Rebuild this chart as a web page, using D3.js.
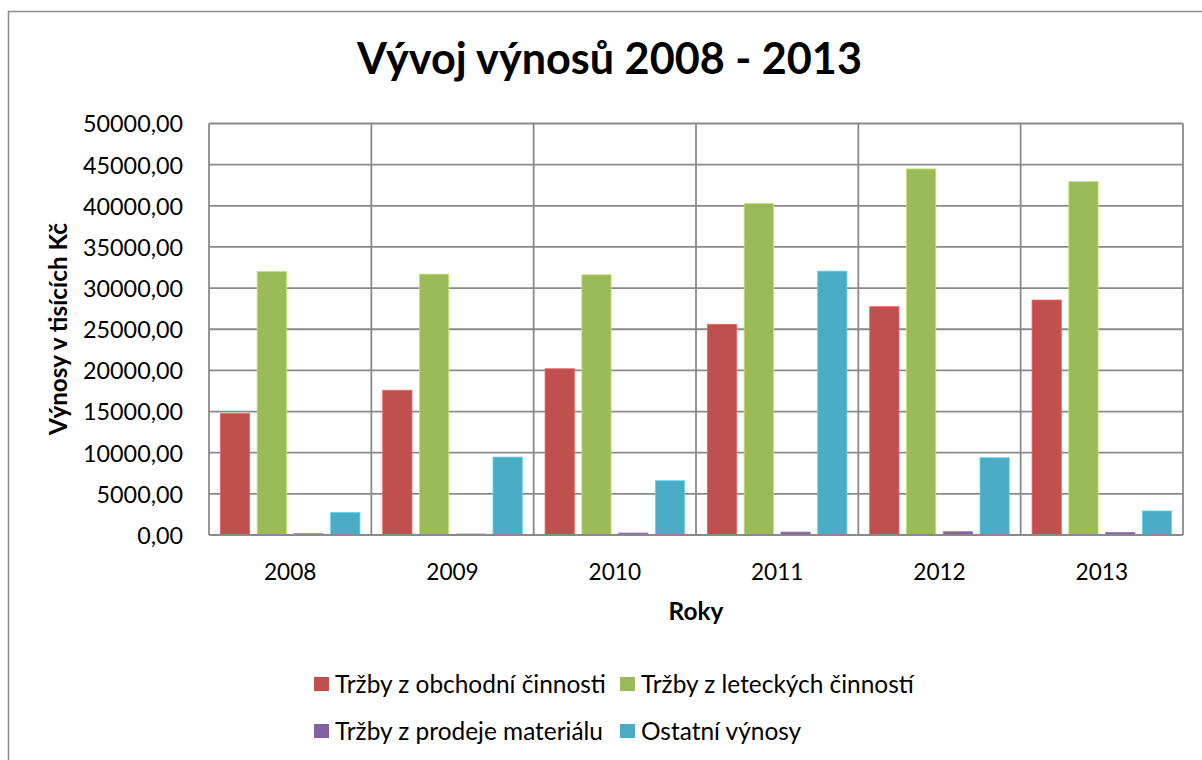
<!DOCTYPE html>
<html>
<head>
<meta charset="utf-8">
<script src="https://cdn.jsdelivr.net/npm/d3@7"></script>
<style>
  html, body { margin: 0; padding: 0; background: #fff; }
  svg { display: block; font-family: Lato, "Open Sans", sans-serif; }
</style>
</head>
<body>
<svg id="chart" width="1202" height="760"></svg>
<script>
// ---- data ----
const years = ["2008", "2009", "2010", "2011", "2012", "2013"];
const seriesNames = [
  "Tržby z obchodní činnosti",
  "Tržby z leteckých činností",
  "Tržby z prodeje materiálu",
  "Ostatní výnosy"
];
const obchodni = [14750, 17590, 20200, 25600, 27740, 28550];
const letecke  = [32020, 31700, 31620, 40280, 44480, 42940];
const material = [160, 120, 240, 360, 400, 320];
const ostatni  = [2750, 9470, 6600, 32060, 9390, 2920];
const yTicks = [0, 5000, 10000, 15000, 20000, 25000, 30000, 35000, 40000, 45000, 50000];
const colors = ["#C0504D", "#9BBB59", "#8064A2", "#4BACC6"];
const titleText = "Vývoj výnosů 2008 - 2013";
const yTitle = "Výnosy v tisících Kč";
const xTitle = "Roky";

const seriesValues = [obchodni, letecke, material, ostatni];
const table = years.map((y, i) => ({ year: y, values: seriesValues.map(s => s[i]) }));

// ---- layout ----
const svg = d3.select("#chart");
const plot = { left: 209, right: 1183, top: 123.5, bottom: 535 };
const grid = "#8a8a8a";

// chart border (extends beyond the canvas on right/bottom)
svg.append("rect")
  .attr("x", 8.5).attr("y", 11.5)
  .attr("width", 1300).attr("height", 900)
  .attr("fill", "#fff").attr("stroke", "#8c8c8c").attr("stroke-width", 1.5);

// measure helper to set font sizes matching the reference text widths
function fitSize(text, weight, targetWidth) {
  const t = svg.append("text").attr("font-size", 100).attr("font-weight", weight).text(text);
  const w = t.node().getComputedTextLength();
  t.remove();
  return 100 * targetWidth / w;
}
const baseSize = fitSize("Tržby z obchodní činnosti", "normal", 271);
const tickSize = fitSize("50000,00", "normal", 100);
const yearSize = fitSize("2008", "normal", 52.5);
const titleSize = fitSize(titleText, "bold", 505);
const yTitleSize = fitSize(yTitle, "bold", 212);

const x0 = d3.scaleBand().domain(years).range([plot.left, plot.right]).paddingInner(0).paddingOuter(0);
const x1 = d3.scaleBand().domain(d3.range(4)).range([0, x0.bandwidth()]).paddingInner(0.204).paddingOuter(0.31);
const y = d3.scaleLinear().domain([0, 50000]).range([plot.bottom, plot.top]);

// horizontal gridlines
svg.append("g").selectAll("line").data(yTicks).join("line")
  .attr("x1", plot.left).attr("x2", plot.right)
  .attr("y1", d => y(d)).attr("y2", d => y(d))
  .attr("stroke", grid).attr("stroke-width", 1.8);

// vertical gridlines at category boundaries
const bounds = years.map(d => x0(d)).concat([plot.right]);
svg.append("g").selectAll("line").data(bounds).join("line")
  .attr("x1", d => d).attr("x2", d => d)
  .attr("y1", plot.top).attr("y2", plot.bottom)
  .attr("stroke", grid).attr("stroke-width", 1.8);

// bars
const groups = svg.append("g").selectAll("g").data(table).join("g")
  .attr("transform", d => `translate(${x0(d.year)},0)`);
groups.selectAll("rect").data(d => d.values.map((v, i) => ({ v, i }))).join("rect")
  .attr("x", d => x1(d.i))
  .attr("width", x1.bandwidth())
  .attr("y", d => y(d.v))
  .attr("height", d => y(0) - y(d.v))
  .attr("fill", d => colors[d.i])
  .attr("stroke", d => d3.color(colors[d.i]).brighter(0.6))
  .attr("stroke-width", 0.8);

// axis line at bottom
svg.append("line")
  .attr("x1", plot.left).attr("x2", plot.right)
  .attr("y1", y(0)).attr("y2", y(0))
  .attr("stroke", grid).attr("stroke-width", 2);

// y axis tick labels
const fmt = v => d3.format(".2f")(v).replace(".", ",");
const yAxis = d3.axisLeft(y).tickValues(yTicks).tickFormat(fmt).tickSize(0).tickPadding(0);
const yg = svg.append("g").attr("transform", `translate(183,0)`).call(yAxis);
yg.select(".domain").remove();
yg.selectAll("text").attr("font-size", tickSize).attr("fill", "#000")
  .attr("font-family", "Lato, sans-serif").attr("dy", "0.36em");

// x axis labels
const xAxis = d3.axisBottom(x0).tickSize(0).tickPadding(0);
const xg = svg.append("g").attr("transform", `translate(0,${plot.bottom})`).call(xAxis);
xg.select(".domain").remove();
xg.selectAll("text").attr("font-size", yearSize).attr("fill", "#000")
  .attr("font-family", "Lato, sans-serif").attr("dy", null).attr("y", 45);

// title
svg.append("text")
  .attr("x", 609.5).attr("y", 74)
  .attr("text-anchor", "middle").attr("font-weight", "bold")
  .attr("font-size", titleSize).attr("fill", "#000")
  .text(titleText);

// axis titles
svg.append("text")
  .attr("transform", `translate(67,329) rotate(-90)`)
  .attr("text-anchor", "middle").attr("font-weight", "bold")
  .attr("font-size", yTitleSize).attr("fill", "#000")
  .text(yTitle);
svg.append("text")
  .attr("x", (plot.left + plot.right) / 2).attr("y", 620)
  .attr("text-anchor", "middle").attr("font-weight", "bold")
  .attr("font-size", baseSize).attr("fill", "#000")
  .text(xTitle);

// legend
const legendPos = [
  { x: 314, y: 684 }, { x: 620, y: 684 },
  { x: 314, y: 731 }, { x: 620, y: 731 }
];
const lg = svg.append("g").selectAll("g").data(seriesNames).join("g")
  .attr("transform", (d, i) => `translate(${legendPos[i].x},${legendPos[i].y})`);
lg.append("rect").attr("x", 0).attr("y", -7).attr("width", 15).attr("height", 14)
  .attr("fill", (d, i) => colors[i]);
lg.append("text").attr("x", 21).attr("y", 0).attr("dy", "0.35em")
  .attr("font-size", baseSize).attr("fill", "#000").text(d => d);
</script>
</body>
</html>
